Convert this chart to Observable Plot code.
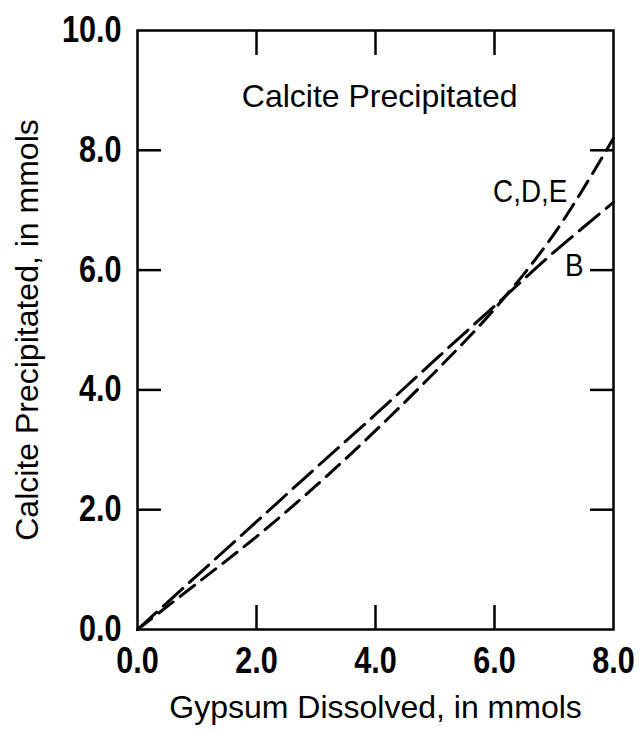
<!DOCTYPE html>
<html>
<head>
<meta charset="utf-8">
<script src="https://cdn.jsdelivr.net/npm/d3@7"></script>
<script src="https://cdn.jsdelivr.net/npm/@observablehq/plot@0.6"></script>
<style>
  html, body { margin: 0; padding: 0; background: #fff; }
</style>
</head>
<body>
<div id="chart"></div>
<script>
// Gypsum dissolved (mmol)
const gypsum = [0, 1, 2, 3, 4, 5, 6, 7, 8];
// Calcite precipitated, curve B
const calciteB = [0, 0.9, 1.8, 2.7, 3.59, 4.5, 5.4, 6.3, 7.13];
// Calcite precipitated, curves C,D,E
const calciteCDE = [0, 0.77, 1.55, 2.4, 3.32, 4.3, 5.35, 6.6, 8.2];

const xTicks = [0, 2, 4, 6, 8];
const yTicks = [0, 2, 4, 6, 8, 10];
const innerX = [2, 4, 6];
const innerY = [2, 4, 6, 8];

const title = "Calcite Precipitated";
const xLabel = "Gypsum Dissolved, in mmols";
const yLabel = "Calcite Precipitated, in mmols";

const curveLabelText = ["C,D,E", "B"];
const curveLabels = [
  {x: 6.6, y: 7.3, text: curveLabelText[0]},
  {x: 7.34, y: 6.07, text: curveLabelText[1]}
];

const dataB = gypsum.map((g, i) => ({x: g, y: calciteB[i]}));
const dataCDE = gypsum.map((g, i) => ({x: g, y: calciteCDE[i]}));

const FONT = "'Liberation Sans', Arial, Helvetica, sans-serif";

const chart = Plot.plot({
  width: 639,
  height: 732,
  marginLeft: 137,
  marginRight: 26,
  marginTop: 30,
  marginBottom: 103,
  style: {fontFamily: FONT, background: "#fff", color: "#000"},
  x: {domain: [0, 8]},
  y: {domain: [0, 10]},
  marks: [
    Plot.frame({stroke: "#000", strokeWidth: 2.5}),
    // tick labels
    Plot.axisX(xTicks, {anchor: "bottom", tickSize: 0, tickPadding: 18, tickFormat: d3.format(".1f"),
      fontSize: 36, fontWeight: "bold", label: null}),
    Plot.axisY(yTicks, {anchor: "left", tickSize: 0, tickPadding: 16, tickFormat: d3.format(".1f"),
      fontSize: 36, fontWeight: "bold", label: null}),
    // inward ticks
    Plot.axisX(innerX, {anchor: "bottom", tickSize: -24, tickFormat: () => "", strokeWidth: 2.5, label: null}),
    Plot.axisX(innerX, {anchor: "top", tickSize: -24, tickFormat: () => "", strokeWidth: 2.5, label: null}),
    Plot.axisY(innerY, {anchor: "left", tickSize: -24, tickFormat: () => "", strokeWidth: 2.5, label: null}),
    Plot.axisY(innerY, {anchor: "right", tickSize: -24, tickFormat: () => "", strokeWidth: 2.5, label: null}),
    // axis titles
    Plot.text([xLabel], {frameAnchor: "bottom", lineAnchor: "middle", dy: 78, text: d => d, fontSize: 32, fill: "#000"}),
    Plot.text([yLabel], {frameAnchor: "left", textAnchor: "middle", lineAnchor: "middle", dx: -110, rotate: -90, text: d => d, fontSize: 32, fill: "#000"}),
    // curves
    Plot.line(dataB, {x: "x", y: "y", curve: "catmull-rom", stroke: "#000", strokeWidth: 3, strokeDasharray: "26,9"}),
    Plot.line(dataCDE, {x: "x", y: "y", curve: "catmull-rom", stroke: "#000", strokeWidth: 3, strokeDasharray: "18,9"}),
    Plot.text(curveLabels, {x: "x", y: "y", text: "text", fontSize: 32, fill: "#000"}),
    Plot.text([title], {x: () => 4.07, y: () => 8.9, text: d => d, fontSize: 32, fill: "#000"})
  ]
});
document.getElementById("chart").appendChild(chart);

// Compress text horizontally (keeping anchors) to mimic the condensed typeface
function squeeze(test, s) {
  chart.querySelectorAll("text").forEach(t => {
    if (t.querySelector("tspan")) return;
    if (!test(t.textContent)) return;
    const len = t.getComputedTextLength();
    if (len > 0) {
      t.setAttribute("textLength", (len * s).toFixed(2));
      t.setAttribute("lengthAdjust", "spacingAndGlyphs");
    }
  });
}
squeeze(s => /^\d+\.\d$/.test(s), 0.85);
squeeze(s => curveLabelText.includes(s), 0.87);
</script>
</body>
</html>
